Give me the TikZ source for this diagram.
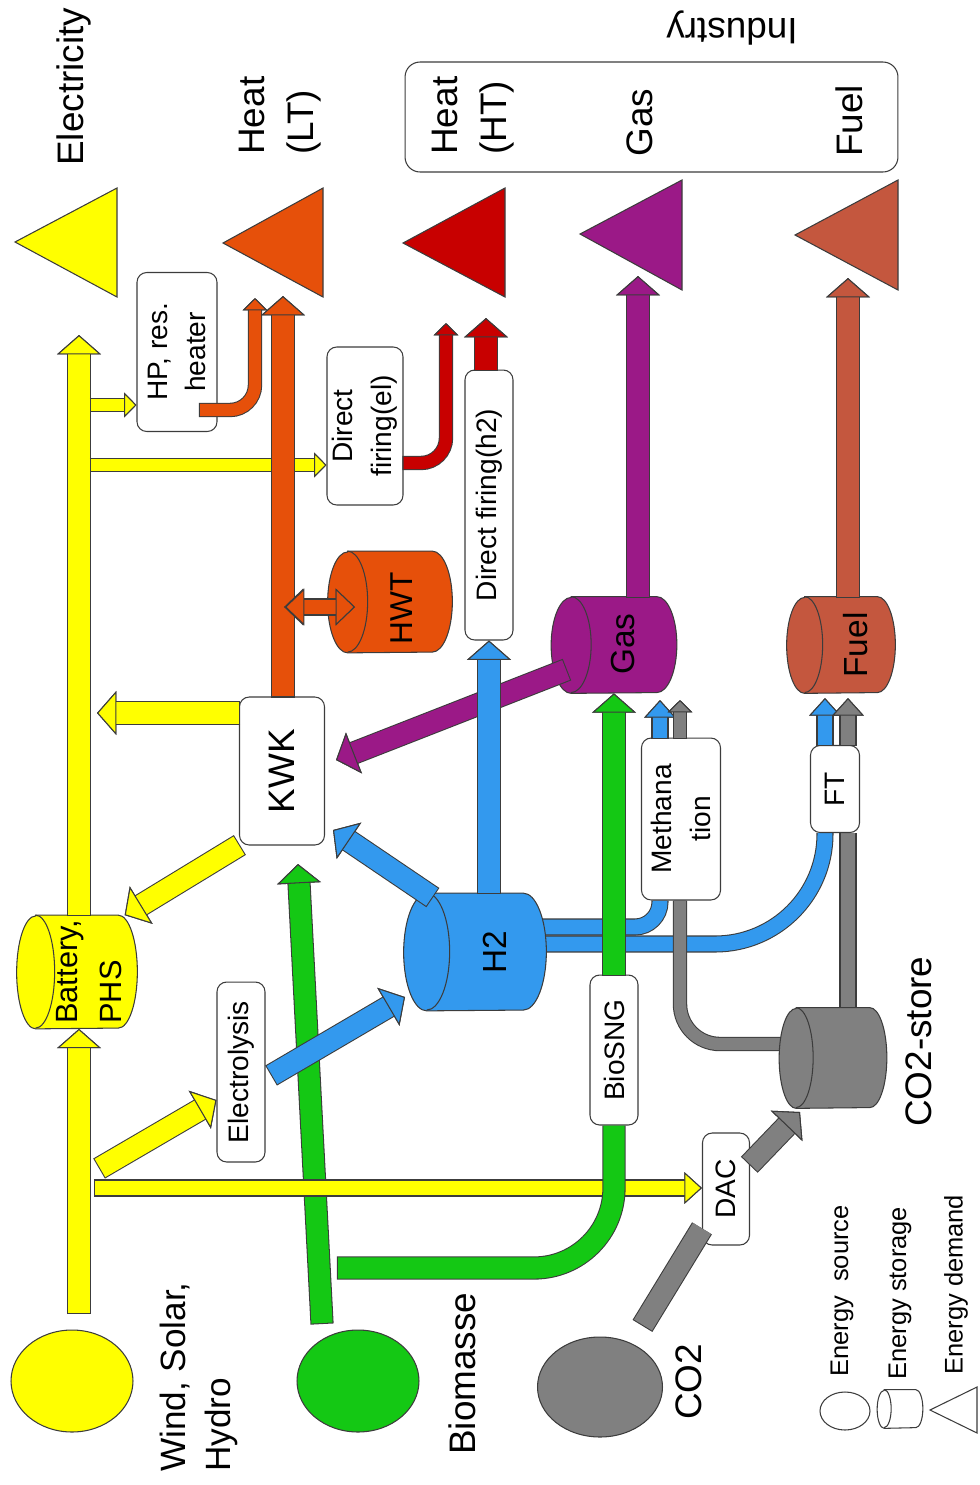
\documentclass[tikz,border=0pt]{standalone}
\usepackage{fontspec}
\setmainfont{Liberation Sans}
\usepackage{xcolor}
\usetikzlibrary{arrows.meta,shapes.geometric}

\pgfdeclarelayer{back}
\pgfsetlayers{back,main}

\definecolor{yel}{RGB}{255,255,0}
\definecolor{grn}{RGB}{20,200,20}
\definecolor{gry}{RGB}{128,128,128}
\definecolor{blu}{RGB}{51,153,238}
\definecolor{pur}{RGB}{155,25,135}
\definecolor{fue}{RGB}{196,87,62}
\definecolor{lowheat}{RGB}{230,80,10}
\definecolor{highheat}{RGB}{200,0,0}
\definecolor{outl}{RGB}{60,60,60}

\tikzset{
  bigpipe/.style={draw=#1, line width=12pt, preaction={draw=outl, line width=13.2pt, shorten <=-0.6pt}},
  midpipe/.style={draw=#1, line width=8.5pt, preaction={draw=outl, line width=9.7pt, shorten <=-0.6pt}},
  smallpipe/.style={draw=#1, line width=7pt, preaction={draw=outl, line width=8.2pt, shorten <=-0.6pt}},
  bigflow/.style={bigpipe=#1, -{Triangle[width=25pt, length=11pt, fill=#1, color=outl, line width=0.6pt]}},
  midflow/.style={midpipe=#1, -{Triangle[width=18pt, length=10pt, fill=#1, color=outl, line width=0.6pt]}},
  smallflow/.style={smallpipe=#1, -{Triangle[width=14pt, length=7pt, fill=#1, color=outl, line width=0.6pt]}},
  twoway/.style={midpipe=#1, {Triangle[width=21pt, length=11pt, fill=#1, color=outl, line width=0.6pt]}-{Triangle[width=21pt, length=11pt, fill=#1, color=outl, line width=0.6pt]}},
  energysrc/.style={ellipse, draw=outl, line width=0.6pt, fill=#1, minimum width=2.44cm, minimum height=2.04cm, inner sep=0},
  tankline/.style={draw=outl, line width=0.6pt},
  proc/.style={draw=outl, line width=0.6pt, fill=white, rounded corners=5.5pt, rotate=90, inner sep=0, align=center, font=\fontsize{16}{22}\selectfont},
  demand/.style={draw=outl, line width=0.6pt, fill=#1},
  bigtxt/.style={rotate=90, anchor=west, inner sep=0, align=left, font=\fontsize{21}{28}\selectfont},
  tanktxt/.style={rotate=90, inner sep=0, font=\fontsize{19}{24}\selectfont},
  legtxt/.style={rotate=90, anchor=west, inner sep=0, font=\fontsize{14.5}{17}\selectfont}
}

% lying tank: name, x, y, width, height, cap radius (all in px), colour
\newcommand{\drawtank}[7]{%
  \node[inner sep=0, minimum width=#4*0.02cm, minimum height=#5*0.02cm] (#1) at (#2,#3) {};
  \draw[tankline, fill=#7] ([xshift=#6*0.02cm]#1.north west) -- ([xshift=-#6*0.02cm]#1.north east)
    arc[start angle=90, end angle=-90, x radius=#6*0.02cm, y radius=#5*0.01cm]
    -- ([xshift=#6*0.02cm]#1.south west)
    arc[start angle=-90, end angle=-270, x radius=#6*0.02cm, y radius=#5*0.01cm] -- cycle;
  \draw[tankline] ([xshift=#6*0.02cm]#1.north west)
    arc[start angle=90, end angle=-90, x radius=#6*0.02cm, y radius=#5*0.01cm];
}

\begin{document}
\begin{tikzpicture}[x=0.02cm, y=-0.02cm]
  \useasboundingbox (0,0) rectangle (980,1485);

  % demands
  \draw[demand=yel] (15,242) -- (117,188) -- (117,297) -- cycle;
  \draw[demand=lowheat] (223,243) -- (323,188) -- (323,297) -- cycle;
  \draw[demand=highheat] (403,243) -- (505,188) -- (505,297) -- cycle;
  \draw[demand=pur] (580,234) -- (682,180) -- (682,290) -- cycle;
  \draw[demand=fue] (795,235) -- (898,180) -- (898,290) -- cycle;
  \node[draw=outl, line width=0.6pt, rounded corners=0.3cm, minimum width=9.86cm, minimum height=2.2cm, inner sep=0] (indBox) at (651.5,117) {};

  % sources
  \node[energysrc=yel] (wind) at (72,1381) {};
  \node[energysrc=grn] (bio) at (358,1381) {};
  \node[energysrc=gry, minimum width=2.5cm, minimum height=2cm] (co2) at (600,1387) {};

  % storages
  \drawtank{bat}{77}{972}{120}{113}{19}{yel}
  \drawtank{hwt}{390}{602}{124}{101}{20}{lowheat}
  \drawtank{h2}{475}{952}{142}{117}{23}{blu}
  \drawtank{gas}{614}{645}{125}{96}{20}{pur}
  \drawtank{fuel}{841}{645}{108}{96}{18}{fue}
  \drawtank{co2st}{833}{1058}{107}{100}{17}{gry}

  % conversion
  \node[proc, minimum width=3.18cm, minimum height=1.6cm] (hp) at (177,352) {HP, res.\\heater};
  \node[proc, minimum width=3.16cm, minimum height=1.52cm] (dirEl) at (365,426) {Direct\\firing(el)};
  \node[proc, minimum width=5.4cm, minimum height=0.96cm] (dirH2) at (489,505) {Direct firing(h2)};
  \node[proc, font=\fontsize{21}{26}\selectfont, minimum width=2.96cm, minimum height=1.7cm] (kwk) at (282,771) {KWK};
  \node[proc, minimum width=3.6cm, minimum height=0.96cm] (ely) at (241,1072) {Electrolysis};
  \node[proc, minimum width=3.24cm, minimum height=1.58cm] (meth) at (681,819) {Methana\\tion};
  \node[proc, minimum width=1.74cm, minimum height=0.98cm] (ft) at (835,789) {FT};
  \node[proc, minimum width=3cm, minimum height=0.96cm] (biosng) at (614,1050) {BioSNG};
  \node[proc, minimum width=2.24cm, minimum height=0.94cm] (dac) at (726,1189) {DAC};

  \coordinate (wBot) at (79,1313);
  \coordinate (elecIn) at (79,335);
  \coordinate (hpRow) at (91,405);
  \coordinate (delRow) at (91,465);
  \coordinate (kwkOut) at (97,713);
  \coordinate (wEly) at (100,1168);
  \coordinate (dacRow) at (95,1188);
  \coordinate (bioUp) at (322,1323);
  \coordinate (kwkIn) at (298,864);
  \coordinate (bioRight) at (338,1268);
  \coordinate (co2Up) at (643,1325);
  \coordinate (storeIn) at (800,1112);
  \coordinate (elyOut) at (272,1075);
  \coordinate (h2In) at (405,997);
  \coordinate (h2Top) at (432,897);
  \coordinate (kwkIn2) at (333,830);
  \coordinate (gasOut) at (566,670);
  \coordinate (kwkIn3) at (336,760);
  \coordinate (gasDem) at (638,276);
  \coordinate (fuelDem) at (848,278);
  \coordinate (gasInB) at (660,700);
  \coordinate (gasInG) at (680,700);
  \coordinate (fuelInB) at (825,698);
  \coordinate (fuelInG) at (848,698);
  \coordinate (hpOut) at (200,410);
  \coordinate (ltIn1) at (255,298);
  \coordinate (ltIn) at (283,296);
  \coordinate (hwtL) at (285,607);
  \coordinate (hwtR) at (355,607);
  \coordinate (htIn1) at (446,323);
  \coordinate (htIn2) at (486,318);

  \begin{pgfonlayer}{back}
    \draw[midpipe=blu, rounded corners=0.5cm] (h2.center |- 0,927) -| (meth.west -| gasInB);
    \draw[midpipe=blu, rounded corners=2.2cm] (h2.center |- 0,944) -| (ft.west -| fuelInB);
    \draw[smallpipe=gry, rounded corners=0.8cm] (co2st.center |- 0,1044) -| (meth.west -| gasInG);
    \draw[midpipe=gry] (co2st.center -| fuelInG) -- (ft.west -| fuelInG);
  \end{pgfonlayer}

  % electricity
  \draw[bigflow=yel] (wBot) -- (bat.south -| wBot);
  \draw[bigflow=yel] (bat.north -| wBot) -- (elecIn);
  \draw[smallflow=yel] (hpRow) -- (hp.north |- hpRow);
  \draw[smallflow=yel] (delRow) -- (dirEl.north |- delRow);
  \draw[bigflow=yel] (kwk.north |- kwkOut) -- (kwkOut);
  \draw[bigflow=yel] (kwk.north west) -- (bat.50);
  \draw[bigflow=grn] (bioUp) -- (kwkIn);
  \draw[bigflow=yel] (wEly) -- (ely.north |- 0,1100);
  \draw[midflow=yel] (dacRow) -- (dac.north |- dacRow);
  \draw[bigpipe=grn, rounded corners=1.6cm] (bioRight) -| (biosng.west);
  \draw[bigflow=grn] (biosng.east) -- (gas.south -| biosng.east);

  % hydrogen and gas
  \draw[bigflow=blu] (elyOut) -- (h2In);
  \draw[bigflow=blu] (h2Top) -- (kwkIn2);
  \draw[bigflow=pur] (gasOut) -- (kwkIn3);
  \draw[bigflow=blu] (h2.north -| dirH2.west) -- (dirH2.west);
  \draw[midflow=blu] (meth.east -| gasInB) -- (gasInB);
  \draw[smallflow=gry] (meth.east -| gasInG) -- (gasInG);
  \draw[midflow=blu] (ft.east -| fuelInB) -- (fuelInB);
  \draw[midflow=gry] (ft.east -| fuelInG) -- (fuelInG);
  \draw[bigpipe=gry] (co2Up) -- (dac);
  \draw[bigflow=gry] (dac) -- (storeIn);

  % to the demands
  \draw[bigflow=pur] (gas.north -| gasDem) -- (gasDem);
  \draw[bigflow=fue] (fuel.north -| fuelDem) -- (fuelDem);
  \draw[smallflow=lowheat, rounded corners=0.5cm] (hpOut) -| (ltIn1);
  \draw[bigflow=lowheat] (kwk.east -| ltIn) -- (ltIn);
  \draw[twoway=lowheat] (hwtL) -- (hwtR);
  \draw[smallflow=highheat, rounded corners=0.5cm] (dirEl.south |- 0,463) -| (htIn1);
  \draw[bigflow=highheat] (dirH2.east -| htIn2) -- (htIn2);

  % texts
  \node[tanktxt, anchor=west, align=left, font=\fontsize{17.5}{25}\selectfont] (batTxt) at (89,1024) {Battery,\\PHS};
  \node[tanktxt, font=\fontsize{18}{22}\selectfont] (hwtTxt) at (402,608) {HWT};
  \node[tanktxt] (h2Txt) at (495,952) {H2};
  \node[tanktxt] (gasTxt) at (623,644) {Gas};
  \node[tanktxt] (fuelTxt) at (856,645) {Fuel};

  \node[bigtxt] (tElec) at (74,166) {Electricity};
  \node[bigtxt] (tLT) at (280,155) {Heat\\(LT)};
  \node[bigtxt] (tHT) at (473,155) {Heat\\(HT)};
  \node[bigtxt] (tGas) at (640,157) {Gas};
  \node[bigtxt] (tFuel) at (849,157) {Fuel};
  \node[rotate=180, inner sep=0, font=\fontsize{21}{26}\selectfont] (tInd) at (732,28) {Industry};
  \node[bigtxt, font=\fontsize{20}{26}\selectfont] (tWind) at (199,1472) {Wind, Solar,\\Hydro};
  \node[bigtxt] (tBio) at (462,1455) {Biomasse};
  \node[bigtxt] (tCO2) at (689,1420) {CO2};
  \node[bigtxt] (tStore) at (919,1127) {CO2-store};

  % legend
  \node[draw=outl, ellipse, line width=0.6pt, minimum width=1cm, minimum height=0.76cm, inner sep=0] (lgSrc) at (845,1411) {};
  \drawtank{lgSto}{900}{1409}{45}{38}{7}{white}
  \draw[demand=white] (930,1410) -- (977,1387) -- (977,1433) -- cycle;
  \node[legtxt] (lgT1) at (842,1377) {Energy\ \ source};
  \node[legtxt] (lgT2) at (900,1380) {Energy storage};
  \node[legtxt] (lgT3) at (956,1375) {Energy demand};
\end{tikzpicture}
\end{document}
